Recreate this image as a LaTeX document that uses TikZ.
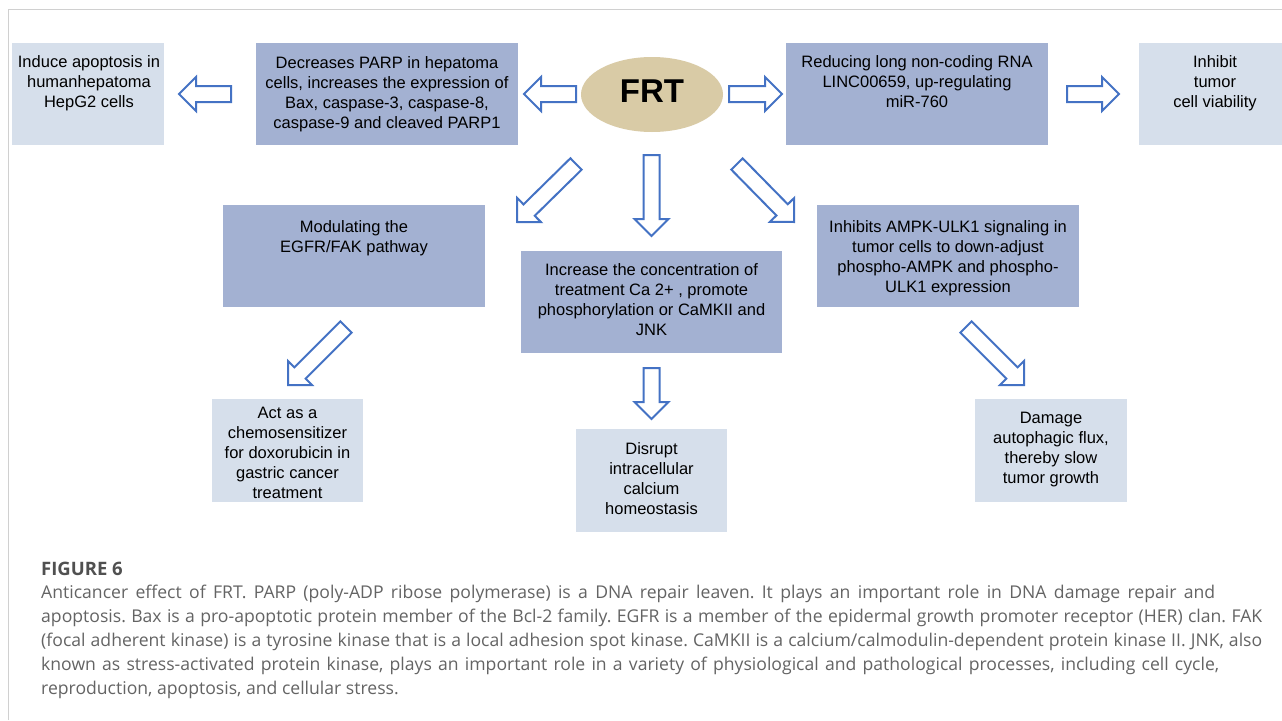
\documentclass[tikz,border=0pt]{standalone}
\usepackage{fontspec}
\setmainfont{Liberation Sans}
\newfontfamily\capfont{Open Sans}
\usetikzlibrary{calc,shapes.geometric}
\definecolor{fillDark}{HTML}{A3B1D2}
\definecolor{fillLight}{HTML}{D6DFEB}
\definecolor{fillTan}{HTML}{D9CBA6}
\definecolor{arrowBlue}{HTML}{4472C4}
\definecolor{capGray}{HTML}{646464}
\definecolor{figGray}{HTML}{505050}
\definecolor{frameGray}{HTML}{D0D0D0}
\tikzset{
  darkbox/.style={fill=fillDark, draw=none, inner sep=0pt, anchor=north west},
  lightbox/.style={fill=fillLight, draw=none, inner sep=0pt, anchor=north west},
  boxtext/.style={anchor=north, align=center, inner sep=0pt, text=black,
    font=\fontsize{16.5}{20}\selectfont},
  captext/.style={anchor=base west, inner sep=0pt, text=capGray,
    font=\capfont\fontsize{17.6}{24}\selectfont\frenchspacing},
  barrow/.style={draw=arrowBlue, line width=2pt, line join=miter, to path={
    ($(\tikztostart)!8pt!90:(\tikztotarget)$)
    -- ($($(\tikztotarget)!17pt!(\tikztostart)$)!8pt!90:(\tikztotarget)$)
    -- ($($(\tikztotarget)!17pt!(\tikztostart)$)!17pt!90:(\tikztotarget)$)
    -- (\tikztotarget)
    -- ($($(\tikztotarget)!17pt!(\tikztostart)$)!17pt!-90:(\tikztotarget)$)
    -- ($($(\tikztotarget)!17pt!(\tikztostart)$)!8pt!-90:(\tikztotarget)$)
    -- ($(\tikztostart)!8pt!-90:(\tikztotarget)$)
    -- cycle}}
}
\begin{document}
\begin{tikzpicture}[x=1pt,y=-1pt]
\useasboundingbox (0,0) rectangle (1282,720);
\clip (0,0) rectangle (1282,720);
\fill[white] (0,0) rectangle (1282,720);
% frame
\draw[frameGray, line width=1.5pt] (8.5,720) -- (8.5,9.5) -- (1282,9.5);

% boxes
\node[lightbox, minimum width=152pt, minimum height=102pt] (A) at (12,43) {};
\node[darkbox, minimum width=262pt, minimum height=102pt] (B) at (256,43) {};
\node[fill=fillTan, ellipse, inner sep=0pt, minimum width=142pt, minimum height=75pt,
      text height=24pt, text depth=8pt,
      font=\fontsize{33}{33}\selectfont\bfseries] (FRT) at (652,94.5) {FRT};
\node[darkbox, minimum width=262pt, minimum height=102pt] (C) at (786,43) {};
\node[lightbox, minimum width=152pt, minimum height=102pt] (D) at (1139,43) {};
\node[darkbox, minimum width=262pt, minimum height=102pt] (E) at (223,205) {};
\node[darkbox, minimum width=261pt, minimum height=102pt] (F) at (521,251) {};
\node[darkbox, minimum width=262pt, minimum height=102pt] (G) at (817,205) {};
\node[lightbox, minimum width=151pt, minimum height=103pt] (H) at (212,399) {};
\node[lightbox, minimum width=151pt, minimum height=103pt] (I) at (576,429) {};
\node[lightbox, minimum width=152pt, minimum height=103pt] (J) at (975,399) {};

% box texts
\node[boxtext] (At) at (89,55) {Induce apoptosis in\\humanhepatoma\\HepG2 cells};
\node[boxtext] (Bt) at (387,56) {Decreases PARP in hepatoma\\cells, increases the expression of\\Bax, caspase-3, caspase-8,\\caspase-9 and cleaved PARP1};
\node[boxtext] (Ct) at (917,55) {Reducing long non-coding RNA\\LINC00659, up-regulating\\miR-760};
\node[boxtext] (Dt) at (1215,55) {Inhibit\\tumor\\cell viability};
\node[boxtext] (Et) at (354,220) {Modulating the\\EGFR/FAK pathway};
\node[boxtext] (Ft) at (651.5,263) {Increase the concentration of\\treatment Ca 2+ , promote\\phosphorylation or CaMKII and\\JNK};
\node[boxtext] (Gt) at (948,220) {Inhibits AMPK-ULK1 signaling in\\tumor cells to down-adjust\\phospho-AMPK and phospho-\\ULK1 expression};
\node[boxtext] (Ht) at (287.5,407) {Act as a\\chemosensitizer\\for doxorubicin in\\gastric cancer\\treatment};
\node[boxtext] (It) at (651.5,442) {Disrupt\\intracellular\\calcium\\homeostasis};
\node[boxtext] (Jt) at (1051,412) {Damage\\autophagic flux,\\thereby slow\\tumor growth};

% arrow end points
\coordinate (a1s) at (231,94);   \coordinate (a1e) at (179,94);
\coordinate (a2s) at (576,94);   \coordinate (a2e) at (524,94);
\coordinate (a3s) at (729,94);   \coordinate (a3e) at (782,94);
\coordinate (a4s) at (1067,94);  \coordinate (a4e) at (1119,94);
\coordinate (a5s) at (651.5,155); \coordinate (a5e) at (651.5,236);
\coordinate (a6s) at (576,164);  \coordinate (a6e) at (517,222);
\coordinate (a7s) at (737,164);  \coordinate (a7e) at (794,222);
\coordinate (a8s) at (346,327);  \coordinate (a8e) at (288,385);
\coordinate (a9s) at (651.5,368); \coordinate (a9e) at (651.5,419);
\coordinate (a10s) at (966,327); \coordinate (a10e) at (1024,385);

\foreach \i in {1,...,10} { \draw[barrow] (a\i s) to (a\i e); }

% caption
\node[anchor=base west, inner sep=0pt, text=figGray,
      font=\capfont\bfseries\fontsize{18.5}{20}\selectfont] (fig) at (41,575) {FIGURE 6};
\node[captext] (c1) at (41,598) {\makebox[1174pt][s]{Anticancer effect of FRT. PARP (poly-ADP ribose polymerase) is a DNA repair leaven. It plays an important role in DNA damage repair and}};
\node[captext] (c2) at (41,622) {\makebox[1221pt][s]{apoptosis. Bax is a pro-apoptotic protein member of the Bcl-2 family. EGFR is a member of the epidermal growth promoter receptor (HER) clan. FAK}};
\node[captext] (c3) at (41,646) {\makebox[1221pt][s]{(focal adherent kinase) is a tyrosine kinase that is a local adhesion spot kinase. CaMKII is a calcium/calmodulin-dependent protein kinase II. JNK, also}};
\node[captext] (c4) at (41,670) {\makebox[1178pt][s]{known as stress-activated protein kinase, plays an important role in a variety of physiological and pathological processes, including cell cycle,}};
\node[captext] (c5) at (41,694) {reproduction, apoptosis, and cellular stress.};
\end{tikzpicture}
\end{document}
